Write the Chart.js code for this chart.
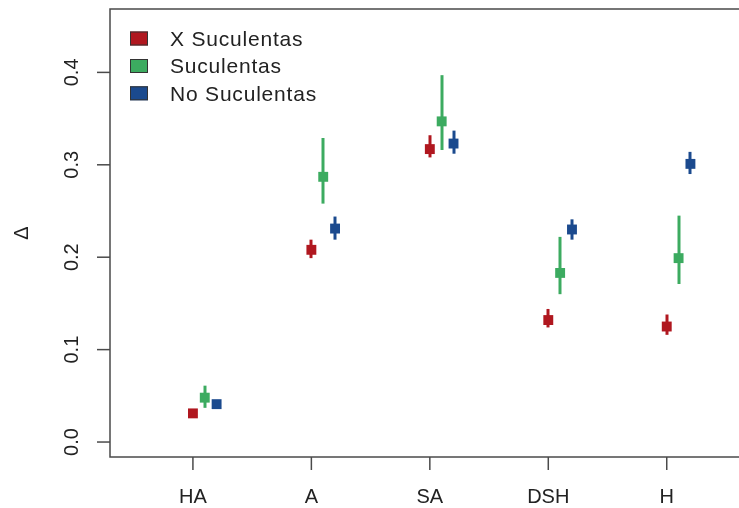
<!DOCTYPE html>
<html>
<head>
<meta charset="utf-8">
<script src="https://cdn.jsdelivr.net/npm/chart.js@4.4.0/dist/chart.umd.min.js"></script>
<style>
  html, body { margin: 0; padding: 0; background: #fff; overflow: hidden; }
</style>
</head>
<body>
<canvas id="deltaChart" width="739" height="508"></canvas>
<script>
// categorías y valores
const categories = ['HA', 'A', 'SA', 'DSH', 'H'];
const seriesNames = ['X Suculentas', 'Suculentas', 'No Suculentas'];
const seriesColors = ['#b0171f', '#3cab60', '#1b4a8e'];
const seriesOffsets = [0, 0.1, 0.2];

const xSucMean = [0.031, 0.208, 0.317, 0.132, 0.125];
const xSucLow  = [0.028, 0.199, 0.308, 0.124, 0.116];
const xSucHigh = [0.034, 0.219, 0.332, 0.144, 0.138];

const sucMean = [0.048, 0.287, 0.347, 0.183, 0.199];
const sucLow  = [0.037, 0.258, 0.316, 0.160, 0.171];
const sucHigh = [0.061, 0.329, 0.397, 0.222, 0.245];

const noSucMean = [0.041, 0.231, 0.323, 0.230, 0.301];
const noSucLow  = [0.037, 0.219, 0.312, 0.219, 0.290];
const noSucHigh = [0.044, 0.244, 0.337, 0.241, 0.314];

const yTicks = [0, 0.1, 0.2, 0.3, 0.4];
const yTickLabels = ['0.0', '0.1', '0.2', '0.3', '0.4'];

const means = [xSucMean, sucMean, noSucMean];
const lows = [xSucLow, sucLow, noSucLow];
const highs = [xSucHigh, sucHigh, noSucHigh];

const FONT = '"Liberation Sans", Arial, Helvetica, sans-serif';

// ejes, recuadro, leyenda y barras de error al estilo R
const rStyle = {
  id: 'rStyle',
  beforeDatasetsDraw(chart) {
    const { ctx, scales: { x, y } } = chart;
    ctx.save();
    ctx.lineCap = 'butt';
    ctx.lineWidth = 3;
    means.forEach((m, s) => {
      ctx.strokeStyle = seriesColors[s];
      m.forEach((_, i) => {
        const px = Math.round(x.getPixelForValue(i + 1 + seriesOffsets[s]));
        ctx.beginPath();
        ctx.moveTo(px, y.getPixelForValue(lows[s][i]));
        ctx.lineTo(px, y.getPixelForValue(highs[s][i]));
        ctx.stroke();
      });
    });
    ctx.restore();
  },
  afterDraw(chart) {
    const { ctx, chartArea: a, scales: { x, y } } = chart;
    ctx.save();
    ctx.strokeStyle = '#4a4a4a';
    ctx.lineWidth = 1.5;
    // recuadro (el lado derecho queda fuera del lienzo)
    ctx.strokeRect(a.left, a.top, a.right - a.left + 10, a.bottom - a.top);

    ctx.fillStyle = '#222';
    ctx.font = '20px ' + FONT;
    ctx.textAlign = 'center';
    ctx.textBaseline = 'middle';

    // eje y
    yTicks.forEach((v, i) => {
      const py = y.getPixelForValue(v);
      ctx.beginPath();
      ctx.moveTo(a.left - 13, py);
      ctx.lineTo(a.left, py);
      ctx.stroke();
      ctx.save();
      ctx.translate(72, py);
      ctx.rotate(-Math.PI / 2);
      ctx.fillText(yTickLabels[i], 0, 0);
      ctx.restore();
    });

    // eje x
    categories.forEach((c, i) => {
      const px = x.getPixelForValue(i + 1);
      ctx.beginPath();
      ctx.moveTo(px, a.bottom);
      ctx.lineTo(px, a.bottom + 13);
      ctx.stroke();
      ctx.fillText(c, px, 497);
    });

    // título eje y
    ctx.save();
    ctx.translate(22, 233);
    ctx.rotate(-Math.PI / 2);
    ctx.fillText('\u0394', 0, 0);
    ctx.restore();

    // leyenda
    const rows = [38.5, 66, 93.3];
    ctx.textAlign = 'left';
    ctx.font = '21px ' + FONT;
    ctx.letterSpacing = '0.8px';
    seriesNames.forEach((name, s) => {
      ctx.fillStyle = seriesColors[s];
      ctx.fillRect(130, rows[s] - 7, 18, 14);
      ctx.lineWidth = 1;
      ctx.strokeStyle = '#333';
      ctx.strokeRect(130.5, rows[s] - 6.5, 17, 13);
      ctx.fillStyle = '#222';
      ctx.fillText(name, 170, rows[s] + 1.5);
    });
    ctx.restore();
  }
};

const datasets = seriesNames.map((name, s) => ({
  label: name,
  data: means[s].map((v, i) => ({ x: i + 1 + seriesOffsets[s], y: v })),
  pointStyle: 'rect',
  pointRadius: 7,
  pointBorderWidth: 0,
  backgroundColor: seriesColors[s],
  borderColor: seriesColors[s],
  showLine: false
}));

new Chart(document.getElementById('deltaChart'), {
  type: 'scatter',
  data: { datasets },
  plugins: [rStyle],
  options: {
    responsive: false,
    animation: false,
    events: [],
    layout: { autoPadding: false, padding: { left: 110, top: 9, right: 0, bottom: 51 } },
    plugins: { legend: { display: false }, tooltip: { enabled: false } },
    scales: {
      x: { type: 'linear', min: 0.3, max: 5.61, display: false },
      y: { type: 'linear', min: -0.0162, max: 0.4686, display: false }
    }
  }
});
</script>
</body>
</html>
